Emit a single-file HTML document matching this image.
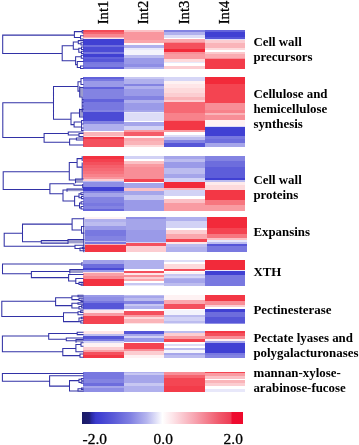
<!DOCTYPE html>
<html><head><meta charset="utf-8"><title>Heatmap</title>
<style>
html,body{margin:0;padding:0;background:#fff;}
body{width:359px;height:445px;overflow:hidden;font-family:"Liberation Serif",serif;}
svg{display:block;filter:blur(0.4px);}
</style></head>
<body>
<svg width="359" height="445" viewBox="0 0 359 445">
<rect width="359" height="445" fill="#fff"/>
<g shape-rendering="crispEdges">
<rect x="83.00" y="29.60" width="41.00" height="1.90" fill="#f44b58"/>
<rect x="83.00" y="31.50" width="41.00" height="2.50" fill="#f6646f"/>
<rect x="83.00" y="34.00" width="41.00" height="2.50" fill="#f88790"/>
<rect x="83.00" y="36.50" width="41.00" height="1.50" fill="#faafb5"/>
<rect x="83.00" y="38.00" width="41.00" height="1.00" fill="#fee6e8"/>
<rect x="83.00" y="39.00" width="41.00" height="6.00" fill="#4040d3"/>
<rect x="83.00" y="45.00" width="41.00" height="2.00" fill="#6d6ddd"/>
<rect x="83.00" y="47.00" width="41.00" height="5.00" fill="#4b4bd5"/>
<rect x="83.00" y="52.00" width="41.00" height="1.50" fill="#7878e0"/>
<rect x="83.00" y="53.50" width="41.00" height="3.50" fill="#4040d3"/>
<rect x="83.00" y="57.00" width="41.00" height="2.00" fill="#6262db"/>
<rect x="83.00" y="59.00" width="41.00" height="3.00" fill="#5656d8"/>
<rect x="83.00" y="62.00" width="41.00" height="1.50" fill="#7878e0"/>
<rect x="83.00" y="63.50" width="41.00" height="3.00" fill="#7c7ce1"/>
<rect x="83.00" y="66.50" width="41.00" height="2.40" fill="#5d5dda"/>
<rect x="124.00" y="29.60" width="40.00" height="2.40" fill="#fbc0c5"/>
<rect x="124.00" y="32.00" width="40.00" height="8.00" fill="#f9969e"/>
<rect x="124.00" y="40.00" width="40.00" height="2.50" fill="#faa5ab"/>
<rect x="124.00" y="42.50" width="40.00" height="2.00" fill="#fff8f8"/>
<rect x="124.00" y="44.50" width="40.00" height="3.50" fill="#b0b0ed"/>
<rect x="124.00" y="48.00" width="40.00" height="2.00" fill="#e8e8fa"/>
<rect x="124.00" y="50.00" width="40.00" height="4.60" fill="#f4f4fc"/>
<rect x="124.00" y="54.60" width="40.00" height="3.40" fill="#bcbcef"/>
<rect x="124.00" y="58.00" width="40.00" height="6.00" fill="#9a9ae8"/>
<rect x="124.00" y="64.00" width="40.00" height="3.00" fill="#8e8ee5"/>
<rect x="124.00" y="67.00" width="40.00" height="1.90" fill="#b0b0ed"/>
<rect x="164.00" y="29.60" width="41.00" height="2.80" fill="#8383e2"/>
<rect x="164.00" y="32.40" width="41.00" height="2.90" fill="#b0b0ed"/>
<rect x="164.00" y="35.30" width="41.00" height="2.30" fill="#ddddf7"/>
<rect x="164.00" y="37.60" width="41.00" height="1.70" fill="#ffffff"/>
<rect x="164.00" y="39.30" width="41.00" height="2.30" fill="#faa8ae"/>
<rect x="164.00" y="41.60" width="41.00" height="1.70" fill="#f88e97"/>
<rect x="164.00" y="43.30" width="41.00" height="5.70" fill="#f4505d"/>
<rect x="164.00" y="49.00" width="41.00" height="3.40" fill="#f22a3a"/>
<rect x="164.00" y="52.40" width="41.00" height="1.10" fill="#f88e97"/>
<rect x="164.00" y="53.50" width="41.00" height="5.70" fill="#f99ba2"/>
<rect x="164.00" y="59.20" width="41.00" height="2.30" fill="#fddadc"/>
<rect x="164.00" y="61.50" width="41.00" height="1.70" fill="#e8e8fa"/>
<rect x="164.00" y="63.20" width="41.00" height="2.30" fill="#ffffff"/>
<rect x="164.00" y="65.50" width="41.00" height="3.40" fill="#fccdd1"/>
<rect x="205.00" y="29.60" width="40.00" height="2.30" fill="#6262db"/>
<rect x="205.00" y="31.90" width="40.00" height="5.10" fill="#4040d3"/>
<rect x="205.00" y="37.00" width="40.00" height="2.30" fill="#5656d8"/>
<rect x="205.00" y="39.30" width="40.00" height="1.10" fill="#ddddf7"/>
<rect x="205.00" y="40.40" width="40.00" height="2.30" fill="#fccdd1"/>
<rect x="205.00" y="42.70" width="40.00" height="5.10" fill="#fab4b9"/>
<rect x="205.00" y="47.80" width="40.00" height="1.70" fill="#fddadc"/>
<rect x="205.00" y="49.50" width="40.00" height="2.30" fill="#ffffff"/>
<rect x="205.00" y="51.80" width="40.00" height="1.70" fill="#fcc8cc"/>
<rect x="205.00" y="53.50" width="40.00" height="4.00" fill="#faacb2"/>
<rect x="205.00" y="57.50" width="40.00" height="1.90" fill="#f88e97"/>
<rect x="205.00" y="59.40" width="40.00" height="9.50" fill="#f33c4a"/>
<rect x="83.00" y="77.20" width="41.00" height="1.90" fill="#6262db"/>
<rect x="83.00" y="79.10" width="41.00" height="1.70" fill="#7878e0"/>
<rect x="83.00" y="80.80" width="41.00" height="5.80" fill="#9a9ae8"/>
<rect x="83.00" y="86.60" width="41.00" height="2.80" fill="#6262db"/>
<rect x="83.00" y="89.40" width="41.00" height="9.10" fill="#8383e2"/>
<rect x="83.00" y="98.50" width="41.00" height="3.50" fill="#6262db"/>
<rect x="83.00" y="102.00" width="41.00" height="8.00" fill="#7878e0"/>
<rect x="83.00" y="110.00" width="41.00" height="1.70" fill="#8383e2"/>
<rect x="83.00" y="111.70" width="41.00" height="9.70" fill="#4b4bd5"/>
<rect x="83.00" y="121.40" width="41.00" height="2.30" fill="#8383e2"/>
<rect x="83.00" y="123.70" width="41.00" height="7.40" fill="#b0b0ed"/>
<rect x="83.00" y="131.10" width="41.00" height="1.20" fill="#ffffff"/>
<rect x="83.00" y="132.30" width="41.00" height="3.40" fill="#fab4b9"/>
<rect x="83.00" y="135.70" width="41.00" height="1.10" fill="#fddadc"/>
<rect x="83.00" y="136.80" width="41.00" height="2.30" fill="#f33745"/>
<rect x="83.00" y="139.10" width="41.00" height="7.40" fill="#f4505d"/>
<rect x="124.00" y="77.20" width="40.00" height="1.80" fill="#c7c7f2"/>
<rect x="124.00" y="79.00" width="40.00" height="4.50" fill="#b0b0ed"/>
<rect x="124.00" y="83.50" width="40.00" height="2.80" fill="#8383e2"/>
<rect x="124.00" y="86.30" width="40.00" height="2.20" fill="#b0b0ed"/>
<rect x="124.00" y="88.50" width="40.00" height="7.80" fill="#9a9ae8"/>
<rect x="124.00" y="96.30" width="40.00" height="3.30" fill="#8383e2"/>
<rect x="124.00" y="99.60" width="40.00" height="3.40" fill="#b0b0ed"/>
<rect x="124.00" y="103.00" width="40.00" height="7.00" fill="#9a9ae8"/>
<rect x="124.00" y="110.00" width="40.00" height="1.70" fill="#a5a5ea"/>
<rect x="124.00" y="111.70" width="40.00" height="1.60" fill="#e8e8fa"/>
<rect x="124.00" y="113.30" width="40.00" height="7.30" fill="#ddddf7"/>
<rect x="124.00" y="120.60" width="40.00" height="1.70" fill="#ffffff"/>
<rect x="124.00" y="122.30" width="40.00" height="3.30" fill="#a5a5ea"/>
<rect x="124.00" y="125.60" width="40.00" height="4.40" fill="#d2d2f5"/>
<rect x="124.00" y="130.00" width="40.00" height="1.70" fill="#f99ba2"/>
<rect x="124.00" y="131.70" width="40.00" height="4.50" fill="#f55c68"/>
<rect x="124.00" y="136.20" width="40.00" height="1.70" fill="#fef2f3"/>
<rect x="124.00" y="137.90" width="40.00" height="2.70" fill="#faa8ae"/>
<rect x="124.00" y="140.60" width="40.00" height="3.90" fill="#fab4b9"/>
<rect x="124.00" y="144.50" width="40.00" height="2.00" fill="#fddadc"/>
<rect x="164.00" y="77.20" width="41.00" height="3.30" fill="#d6d6f6"/>
<rect x="164.00" y="80.50" width="41.00" height="3.50" fill="#fef2f3"/>
<rect x="164.00" y="84.00" width="41.00" height="4.00" fill="#fee6e8"/>
<rect x="164.00" y="88.00" width="41.00" height="5.00" fill="#fddadc"/>
<rect x="164.00" y="93.00" width="41.00" height="3.80" fill="#fccdd1"/>
<rect x="164.00" y="96.80" width="41.00" height="3.20" fill="#fab4b9"/>
<rect x="164.00" y="100.00" width="41.00" height="2.30" fill="#fccdd1"/>
<rect x="164.00" y="102.30" width="41.00" height="11.10" fill="#f66974"/>
<rect x="164.00" y="113.40" width="41.00" height="6.30" fill="#f8828b"/>
<rect x="164.00" y="119.70" width="41.00" height="1.70" fill="#f7767f"/>
<rect x="164.00" y="121.40" width="41.00" height="8.60" fill="#f33745"/>
<rect x="164.00" y="130.00" width="41.00" height="2.30" fill="#f99ba2"/>
<rect x="164.00" y="132.30" width="41.00" height="2.20" fill="#ffffff"/>
<rect x="164.00" y="134.50" width="41.00" height="2.90" fill="#ddddf7"/>
<rect x="164.00" y="137.40" width="41.00" height="2.90" fill="#bcbcef"/>
<rect x="164.00" y="140.30" width="41.00" height="2.80" fill="#8383e2"/>
<rect x="164.00" y="143.10" width="41.00" height="3.40" fill="#5656d8"/>
<rect x="205.00" y="77.20" width="40.00" height="6.80" fill="#f22a3a"/>
<rect x="205.00" y="84.00" width="40.00" height="18.50" fill="#f44451"/>
<rect x="205.00" y="102.50" width="40.00" height="7.50" fill="#f88e97"/>
<rect x="205.00" y="110.00" width="40.00" height="2.90" fill="#f8828b"/>
<rect x="205.00" y="112.90" width="40.00" height="1.70" fill="#fab4b9"/>
<rect x="205.00" y="114.60" width="40.00" height="5.70" fill="#f88e97"/>
<rect x="205.00" y="120.30" width="40.00" height="5.20" fill="#fef2f3"/>
<rect x="205.00" y="125.50" width="40.00" height="1.70" fill="#ddddf7"/>
<rect x="205.00" y="127.20" width="40.00" height="9.10" fill="#4040d3"/>
<rect x="205.00" y="136.30" width="40.00" height="2.20" fill="#7878e0"/>
<rect x="205.00" y="138.50" width="40.00" height="4.00" fill="#6d6ddd"/>
<rect x="205.00" y="142.50" width="40.00" height="4.00" fill="#a5a5ea"/>
<rect x="83.00" y="155.60" width="41.00" height="3.40" fill="#f33241"/>
<rect x="83.00" y="159.00" width="41.00" height="3.00" fill="#f4414f"/>
<rect x="83.00" y="162.00" width="41.00" height="3.00" fill="#f4505d"/>
<rect x="83.00" y="165.00" width="41.00" height="3.00" fill="#f55f6b"/>
<rect x="83.00" y="168.00" width="41.00" height="3.00" fill="#f66974"/>
<rect x="83.00" y="171.00" width="41.00" height="3.00" fill="#f7737d"/>
<rect x="83.00" y="174.00" width="41.00" height="3.00" fill="#f8828b"/>
<rect x="83.00" y="177.00" width="41.00" height="2.00" fill="#f9969e"/>
<rect x="83.00" y="179.00" width="41.00" height="1.80" fill="#fccdd1"/>
<rect x="83.00" y="180.80" width="41.00" height="1.50" fill="#bcbcef"/>
<rect x="83.00" y="182.30" width="41.00" height="4.50" fill="#8e8ee5"/>
<rect x="83.00" y="186.80" width="41.00" height="4.00" fill="#4040d3"/>
<rect x="83.00" y="190.80" width="41.00" height="1.80" fill="#8383e2"/>
<rect x="83.00" y="192.60" width="41.00" height="4.00" fill="#a5a5ea"/>
<rect x="83.00" y="196.60" width="41.00" height="6.20" fill="#8383e2"/>
<rect x="83.00" y="202.80" width="41.00" height="3.50" fill="#7878e0"/>
<rect x="83.00" y="206.30" width="41.00" height="2.20" fill="#8383e2"/>
<rect x="83.00" y="208.50" width="41.00" height="2.30" fill="#6666dc"/>
<rect x="124.00" y="155.60" width="40.00" height="3.10" fill="#d2d2f5"/>
<rect x="124.00" y="158.70" width="40.00" height="2.20" fill="#ffffff"/>
<rect x="124.00" y="160.90" width="40.00" height="3.40" fill="#fbc0c5"/>
<rect x="124.00" y="164.30" width="40.00" height="2.70" fill="#f99ba2"/>
<rect x="124.00" y="167.00" width="40.00" height="12.30" fill="#f88e97"/>
<rect x="124.00" y="179.30" width="40.00" height="2.30" fill="#f44451"/>
<rect x="124.00" y="181.60" width="40.00" height="1.20" fill="#ffffff"/>
<rect x="124.00" y="182.80" width="40.00" height="5.00" fill="#a5a5ea"/>
<rect x="124.00" y="187.80" width="40.00" height="3.30" fill="#fbc0c5"/>
<rect x="124.00" y="191.10" width="40.00" height="3.40" fill="#a5a5ea"/>
<rect x="124.00" y="194.50" width="40.00" height="5.50" fill="#c7c7f2"/>
<rect x="124.00" y="200.00" width="40.00" height="10.80" fill="#9a9ae8"/>
<rect x="164.00" y="155.60" width="41.00" height="3.20" fill="#a5a5ea"/>
<rect x="164.00" y="158.80" width="41.00" height="3.50" fill="#bcbcef"/>
<rect x="164.00" y="162.30" width="41.00" height="5.70" fill="#9a9ae8"/>
<rect x="164.00" y="168.00" width="41.00" height="5.70" fill="#bcbcef"/>
<rect x="164.00" y="173.70" width="41.00" height="4.60" fill="#a5a5ea"/>
<rect x="164.00" y="178.30" width="41.00" height="3.20" fill="#d2d2f5"/>
<rect x="164.00" y="181.50" width="41.00" height="6.50" fill="#f22a3a"/>
<rect x="164.00" y="188.00" width="41.00" height="2.30" fill="#fab4b9"/>
<rect x="164.00" y="190.30" width="41.00" height="5.70" fill="#d2d2f5"/>
<rect x="164.00" y="196.00" width="41.00" height="2.80" fill="#ffffff"/>
<rect x="164.00" y="198.80" width="41.00" height="4.00" fill="#fbc0c5"/>
<rect x="164.00" y="202.80" width="41.00" height="8.00" fill="#f99ba2"/>
<rect x="205.00" y="155.60" width="40.00" height="5.00" fill="#8383e2"/>
<rect x="205.00" y="160.60" width="40.00" height="6.20" fill="#6d6ddd"/>
<rect x="205.00" y="166.80" width="40.00" height="10.90" fill="#5d5dda"/>
<rect x="205.00" y="177.70" width="40.00" height="2.00" fill="#4040d3"/>
<rect x="205.00" y="179.70" width="40.00" height="2.10" fill="#bcbcef"/>
<rect x="205.00" y="181.80" width="40.00" height="3.30" fill="#feebec"/>
<rect x="205.00" y="185.10" width="40.00" height="4.60" fill="#fddadc"/>
<rect x="205.00" y="189.70" width="40.00" height="10.30" fill="#f33745"/>
<rect x="205.00" y="200.00" width="40.00" height="4.50" fill="#f7767f"/>
<rect x="205.00" y="204.50" width="40.00" height="6.30" fill="#f99ba2"/>
<rect x="84.50" y="216.80" width="41.00" height="2.40" fill="#fef2f3"/>
<rect x="84.50" y="219.20" width="41.00" height="2.60" fill="#b0b0ed"/>
<rect x="84.50" y="221.80" width="41.00" height="4.60" fill="#bcbcef"/>
<rect x="84.50" y="226.40" width="41.00" height="3.40" fill="#9a9ae8"/>
<rect x="84.50" y="229.80" width="41.00" height="5.70" fill="#7878e0"/>
<rect x="84.50" y="235.50" width="41.00" height="5.20" fill="#8383e2"/>
<rect x="84.50" y="240.70" width="41.00" height="1.10" fill="#bcbcef"/>
<rect x="84.50" y="241.80" width="41.00" height="1.70" fill="#7878e0"/>
<rect x="84.50" y="243.50" width="41.00" height="1.80" fill="#fab4b9"/>
<rect x="84.50" y="245.30" width="41.00" height="6.50" fill="#f33745"/>
<rect x="125.50" y="216.80" width="40.00" height="2.50" fill="#8e8ee5"/>
<rect x="125.50" y="219.30" width="40.00" height="10.20" fill="#a5a5ea"/>
<rect x="125.50" y="229.50" width="40.00" height="12.20" fill="#9a9ae8"/>
<rect x="125.50" y="241.70" width="40.00" height="1.70" fill="#d2d2f5"/>
<rect x="125.50" y="243.40" width="40.00" height="2.80" fill="#f4505d"/>
<rect x="125.50" y="246.20" width="40.00" height="5.60" fill="#fccdd1"/>
<rect x="165.50" y="216.80" width="41.00" height="3.90" fill="#b0b0ed"/>
<rect x="165.50" y="220.70" width="41.00" height="6.90" fill="#d2d2f5"/>
<rect x="165.50" y="227.60" width="41.00" height="2.20" fill="#ffffff"/>
<rect x="165.50" y="229.80" width="41.00" height="4.60" fill="#fccdd1"/>
<rect x="165.50" y="234.40" width="41.00" height="4.60" fill="#faa8ae"/>
<rect x="165.50" y="239.00" width="41.00" height="3.40" fill="#f44451"/>
<rect x="165.50" y="242.40" width="41.00" height="1.70" fill="#fee6e8"/>
<rect x="165.50" y="244.10" width="41.00" height="2.90" fill="#bcbcef"/>
<rect x="165.50" y="247.00" width="41.00" height="4.80" fill="#b0b0ed"/>
<rect x="206.50" y="216.80" width="40.00" height="10.80" fill="#f22a3a"/>
<rect x="206.50" y="227.60" width="40.00" height="6.80" fill="#f44451"/>
<rect x="206.50" y="234.40" width="40.00" height="3.40" fill="#f7767f"/>
<rect x="206.50" y="237.80" width="40.00" height="1.70" fill="#fbc0c5"/>
<rect x="206.50" y="239.50" width="40.00" height="2.30" fill="#e8e8fa"/>
<rect x="206.50" y="241.80" width="40.00" height="2.30" fill="#bcbcef"/>
<rect x="206.50" y="244.10" width="40.00" height="1.70" fill="#5656d8"/>
<rect x="206.50" y="245.80" width="40.00" height="6.00" fill="#7878e0"/>
<rect x="83.00" y="259.90" width="41.00" height="4.10" fill="#a0a0e9"/>
<rect x="83.00" y="264.00" width="41.00" height="3.80" fill="#6d6ddd"/>
<rect x="83.00" y="267.80" width="41.00" height="2.40" fill="#4b4bd5"/>
<rect x="83.00" y="270.20" width="41.00" height="1.40" fill="#9a9ae8"/>
<rect x="83.00" y="271.60" width="41.00" height="1.40" fill="#fde1e3"/>
<rect x="83.00" y="273.00" width="41.00" height="3.00" fill="#f9a0a7"/>
<rect x="83.00" y="276.00" width="41.00" height="3.40" fill="#f88790"/>
<rect x="83.00" y="279.40" width="41.00" height="6.70" fill="#f33241"/>
<rect x="124.00" y="259.90" width="40.00" height="9.50" fill="#b0b0ed"/>
<rect x="124.00" y="269.40" width="40.00" height="1.60" fill="#ffffff"/>
<rect x="124.00" y="271.00" width="40.00" height="1.70" fill="#f4505d"/>
<rect x="124.00" y="272.70" width="40.00" height="2.00" fill="#fee6e8"/>
<rect x="124.00" y="274.70" width="40.00" height="2.70" fill="#f88e97"/>
<rect x="124.00" y="277.40" width="40.00" height="2.00" fill="#fccdd1"/>
<rect x="124.00" y="279.40" width="40.00" height="2.00" fill="#faa8ae"/>
<rect x="124.00" y="281.40" width="40.00" height="1.30" fill="#ffffff"/>
<rect x="124.00" y="282.70" width="40.00" height="2.00" fill="#c7c7f2"/>
<rect x="124.00" y="284.70" width="40.00" height="1.40" fill="#e8e8fa"/>
<rect x="164.00" y="259.90" width="41.00" height="2.10" fill="#ddddf7"/>
<rect x="164.00" y="262.00" width="41.00" height="2.00" fill="#ffffff"/>
<rect x="164.00" y="264.00" width="41.00" height="5.40" fill="#fddadc"/>
<rect x="164.00" y="269.40" width="41.00" height="1.30" fill="#f4505d"/>
<rect x="164.00" y="270.70" width="41.00" height="1.10" fill="#ffffff"/>
<rect x="164.00" y="271.80" width="41.00" height="1.70" fill="#fef2f3"/>
<rect x="164.00" y="273.50" width="41.00" height="2.50" fill="#c7c7f2"/>
<rect x="164.00" y="276.00" width="41.00" height="2.00" fill="#d6d6f6"/>
<rect x="164.00" y="278.00" width="41.00" height="1.40" fill="#b0b0ed"/>
<rect x="164.00" y="279.40" width="41.00" height="3.30" fill="#a5a5ea"/>
<rect x="164.00" y="282.70" width="41.00" height="3.40" fill="#bcbcef"/>
<rect x="205.00" y="259.90" width="40.00" height="10.10" fill="#f22a3a"/>
<rect x="205.00" y="270.00" width="40.00" height="1.40" fill="#e8e8fa"/>
<rect x="205.00" y="271.40" width="40.00" height="4.00" fill="#4040d3"/>
<rect x="205.00" y="275.40" width="40.00" height="10.70" fill="#7878e0"/>
<rect x="83.00" y="295.00" width="41.00" height="2.40" fill="#9a9ae8"/>
<rect x="83.00" y="297.40" width="41.00" height="3.30" fill="#8e8ee5"/>
<rect x="83.00" y="300.70" width="41.00" height="2.00" fill="#7878e0"/>
<rect x="83.00" y="302.70" width="41.00" height="6.00" fill="#5656d8"/>
<rect x="83.00" y="308.70" width="41.00" height="1.30" fill="#bcbcef"/>
<rect x="83.00" y="310.00" width="41.00" height="3.40" fill="#fee6e8"/>
<rect x="83.00" y="313.40" width="41.00" height="2.70" fill="#f99ba2"/>
<rect x="83.00" y="316.10" width="41.00" height="8.20" fill="#f44451"/>
<rect x="124.00" y="295.00" width="40.00" height="1.00" fill="#bcbcef"/>
<rect x="124.00" y="296.00" width="40.00" height="2.00" fill="#a5a5ea"/>
<rect x="124.00" y="298.00" width="40.00" height="2.70" fill="#bcbcef"/>
<rect x="124.00" y="300.70" width="40.00" height="3.30" fill="#8383e2"/>
<rect x="124.00" y="304.00" width="40.00" height="2.00" fill="#c7c7f2"/>
<rect x="124.00" y="306.00" width="40.00" height="3.40" fill="#b0b0ed"/>
<rect x="124.00" y="309.40" width="40.00" height="1.30" fill="#ffffff"/>
<rect x="124.00" y="310.70" width="40.00" height="4.00" fill="#f4505d"/>
<rect x="124.00" y="314.70" width="40.00" height="2.00" fill="#f99ba2"/>
<rect x="124.00" y="316.70" width="40.00" height="2.00" fill="#fddadc"/>
<rect x="124.00" y="318.70" width="40.00" height="4.10" fill="#fab4b9"/>
<rect x="124.00" y="322.80" width="40.00" height="1.50" fill="#fee6e8"/>
<rect x="164.00" y="295.00" width="41.00" height="0.30" fill="#bcbcef"/>
<rect x="164.00" y="295.30" width="41.00" height="4.70" fill="#fef2f3"/>
<rect x="164.00" y="300.00" width="41.00" height="4.00" fill="#faa8ae"/>
<rect x="164.00" y="304.00" width="41.00" height="4.70" fill="#f4505d"/>
<rect x="164.00" y="308.70" width="41.00" height="1.30" fill="#ffffff"/>
<rect x="164.00" y="310.00" width="41.00" height="4.70" fill="#f4f4fc"/>
<rect x="164.00" y="314.70" width="41.00" height="2.00" fill="#bcbcef"/>
<rect x="164.00" y="316.70" width="41.00" height="4.00" fill="#d2d2f5"/>
<rect x="164.00" y="320.70" width="41.00" height="2.10" fill="#bcbcef"/>
<rect x="164.00" y="322.80" width="41.00" height="1.50" fill="#ddddf7"/>
<rect x="205.00" y="295.00" width="40.00" height="5.70" fill="#f33745"/>
<rect x="205.00" y="300.70" width="40.00" height="4.00" fill="#f88e97"/>
<rect x="205.00" y="304.70" width="40.00" height="2.00" fill="#fccdd1"/>
<rect x="205.00" y="306.70" width="40.00" height="2.70" fill="#ffffff"/>
<rect x="205.00" y="309.40" width="40.00" height="2.60" fill="#4040d3"/>
<rect x="205.00" y="312.00" width="40.00" height="4.70" fill="#6d6ddd"/>
<rect x="205.00" y="316.70" width="40.00" height="6.10" fill="#5656d8"/>
<rect x="205.00" y="322.80" width="40.00" height="1.50" fill="#8e8ee5"/>
<rect x="83.00" y="330.80" width="41.00" height="3.40" fill="#fee6e8"/>
<rect x="83.00" y="334.20" width="41.00" height="1.80" fill="#bcbcef"/>
<rect x="83.00" y="336.00" width="41.00" height="2.70" fill="#5656d8"/>
<rect x="83.00" y="338.70" width="41.00" height="2.70" fill="#7878e0"/>
<rect x="83.00" y="341.40" width="41.00" height="2.00" fill="#d2d2f5"/>
<rect x="83.00" y="343.40" width="41.00" height="3.10" fill="#fef2f3"/>
<rect x="83.00" y="346.50" width="41.00" height="3.00" fill="#fccdd1"/>
<rect x="83.00" y="349.50" width="41.00" height="2.50" fill="#f9a0a7"/>
<rect x="83.00" y="352.00" width="41.00" height="3.00" fill="#f4505d"/>
<rect x="83.00" y="355.00" width="41.00" height="3.40" fill="#f33745"/>
<rect x="124.00" y="330.80" width="40.00" height="3.20" fill="#5656d8"/>
<rect x="124.00" y="334.00" width="40.00" height="2.00" fill="#a5a5ea"/>
<rect x="124.00" y="336.00" width="40.00" height="2.00" fill="#d2d2f5"/>
<rect x="124.00" y="338.00" width="40.00" height="4.00" fill="#9a9ae8"/>
<rect x="124.00" y="342.00" width="40.00" height="1.40" fill="#ffffff"/>
<rect x="124.00" y="343.40" width="40.00" height="5.30" fill="#f44451"/>
<rect x="124.00" y="348.70" width="40.00" height="2.70" fill="#f88e97"/>
<rect x="124.00" y="351.40" width="40.00" height="3.30" fill="#fccdd1"/>
<rect x="124.00" y="354.70" width="40.00" height="3.70" fill="#fef2f3"/>
<rect x="164.00" y="330.80" width="41.00" height="2.60" fill="#bcbcef"/>
<rect x="164.00" y="333.40" width="41.00" height="2.60" fill="#fccdd1"/>
<rect x="164.00" y="336.00" width="41.00" height="2.70" fill="#f99ba2"/>
<rect x="164.00" y="338.70" width="41.00" height="3.30" fill="#f44451"/>
<rect x="164.00" y="342.00" width="41.00" height="2.00" fill="#ffffff"/>
<rect x="164.00" y="344.00" width="41.00" height="2.00" fill="#ddddf7"/>
<rect x="164.00" y="346.00" width="41.00" height="2.00" fill="#ffffff"/>
<rect x="164.00" y="348.00" width="41.00" height="2.00" fill="#bcbcef"/>
<rect x="164.00" y="350.00" width="41.00" height="2.70" fill="#f4f4fc"/>
<rect x="164.00" y="352.70" width="41.00" height="2.00" fill="#a5a5ea"/>
<rect x="164.00" y="354.70" width="41.00" height="3.70" fill="#bcbcef"/>
<rect x="205.00" y="330.80" width="40.00" height="2.60" fill="#f33745"/>
<rect x="205.00" y="333.40" width="40.00" height="2.60" fill="#f4505d"/>
<rect x="205.00" y="336.00" width="40.00" height="2.70" fill="#f88e97"/>
<rect x="205.00" y="338.70" width="40.00" height="2.70" fill="#fef2f3"/>
<rect x="205.00" y="341.40" width="40.00" height="2.00" fill="#a5a5ea"/>
<rect x="205.00" y="343.40" width="40.00" height="9.30" fill="#4040d3"/>
<rect x="205.00" y="352.70" width="40.00" height="2.00" fill="#7878e0"/>
<rect x="205.00" y="354.70" width="40.00" height="3.70" fill="#8383e2"/>
<rect x="83.00" y="371.50" width="41.00" height="7.20" fill="#7878e0"/>
<rect x="83.00" y="378.70" width="41.00" height="4.00" fill="#8383e2"/>
<rect x="83.00" y="382.70" width="41.00" height="3.30" fill="#6d6ddd"/>
<rect x="83.00" y="386.00" width="41.00" height="2.00" fill="#a5a5ea"/>
<rect x="83.00" y="388.00" width="41.00" height="4.30" fill="#8e8ee5"/>
<rect x="124.00" y="371.50" width="40.00" height="1.90" fill="#b0b0ed"/>
<rect x="124.00" y="373.40" width="40.00" height="2.00" fill="#c7c7f2"/>
<rect x="124.00" y="375.40" width="40.00" height="7.30" fill="#a5a5ea"/>
<rect x="124.00" y="382.70" width="40.00" height="3.30" fill="#c7c7f2"/>
<rect x="124.00" y="386.00" width="40.00" height="6.30" fill="#b0b0ed"/>
<rect x="164.00" y="371.50" width="41.00" height="3.00" fill="#f88e97"/>
<rect x="164.00" y="374.50" width="41.00" height="3.50" fill="#f6646f"/>
<rect x="164.00" y="378.00" width="41.00" height="8.00" fill="#f44653"/>
<rect x="164.00" y="386.00" width="41.00" height="6.30" fill="#f33c4a"/>
<rect x="205.00" y="371.50" width="40.00" height="1.90" fill="#f44451"/>
<rect x="205.00" y="373.40" width="40.00" height="2.60" fill="#f99ba2"/>
<rect x="205.00" y="376.00" width="40.00" height="2.70" fill="#fbc0c5"/>
<rect x="205.00" y="378.70" width="40.00" height="1.30" fill="#ffffff"/>
<rect x="205.00" y="380.00" width="40.00" height="2.70" fill="#fab4b9"/>
<rect x="205.00" y="382.70" width="40.00" height="3.30" fill="#fccdd1"/>
<rect x="205.00" y="386.00" width="40.00" height="2.70" fill="#ffffff"/>
<rect x="205.00" y="388.70" width="40.00" height="3.60" fill="#e8e8fa"/>
</g>
<rect x="79.70" y="87.50" width="3.30" height="9.00" fill="#9c9ccc"/><rect x="79.50" y="109.50" width="3.50" height="7.00" fill="#9c9ccc"/><rect x="75.50" y="179.00" width="7.50" height="3.80" fill="#9c9ccc"/><rect x="67.00" y="188.90" width="16.00" height="2.30" fill="#9c9ccc"/><rect x="68.00" y="239.40" width="16.00" height="4.00" fill="#9c9ccc"/><rect x="69.80" y="269.50" width="13.20" height="3.50" fill="#9c9ccc"/><rect x="76.00" y="339.60" width="7.00" height="2.60" fill="#9c9ccc"/><path d="M2.70 35.10L2.70 53.40M2.70 35.10L74.40 35.10M2.70 53.40L62.20 53.40M74.40 31.60L74.40 37.50M74.40 31.60L82.20 31.60M82.20 30.40L82.20 33.00M82.20 30.40L83.00 30.40M82.20 33.00L83.00 33.00M74.40 37.50L80.50 37.50M80.50 35.80L80.50 39.00M80.50 35.80L83.00 35.80M80.50 39.00L83.00 39.00M62.20 45.80L62.20 60.70M62.20 45.80L73.30 45.80M73.30 41.90L73.30 49.30M73.30 41.90L78.30 41.90M78.30 40.60L78.30 43.80M78.30 40.60L83.00 40.60M78.30 43.80L81.00 43.80M81.00 42.80L81.00 45.00M81.00 42.80L83.00 42.80M81.00 45.00L83.00 45.00M73.30 49.30L78.80 49.30M78.80 48.20L78.80 52.30M78.80 48.20L81.50 48.20M81.50 47.00L81.50 49.50M81.50 47.00L83.00 47.00M81.50 49.50L83.00 49.50M78.80 52.30L81.50 52.30M81.50 51.20L81.50 53.50M81.50 51.20L83.00 51.20M81.50 53.50L83.00 53.50M62.20 60.70L75.60 60.70M75.60 56.70L75.60 64.60M75.60 56.70L81.30 56.70M81.30 55.20L81.30 58.30M81.30 55.20L83.00 55.20M81.30 58.30L83.00 58.30M75.60 64.60L77.30 64.60M77.30 61.50L77.30 67.50M77.30 61.50L83.00 61.50M77.30 67.50L80.50 67.50M80.50 66.00L80.50 68.50M80.50 66.00L83.00 66.00M80.50 68.50L83.00 68.50M2.80 102.70L2.80 137.40M2.80 102.70L53.50 102.70M2.80 137.40L44.10 137.40M53.50 86.40L53.50 119.20M53.50 86.40L78.00 86.40M78.00 81.70L78.00 91.10M78.00 81.70L81.00 81.70M81.00 78.40L81.00 84.50M81.00 78.40L83.00 78.40M81.00 84.50L83.00 84.50M78.00 91.10L79.70 91.10M79.70 87.50L83.00 87.50M79.70 87.50L79.70 96.50M79.70 86.80L79.70 97.00M79.70 97.00L82.20 97.00M82.20 97.00L82.20 111.60M82.20 99.50L83.00 99.50M82.20 102.50L83.00 102.50M82.20 106.00L83.00 106.00M82.20 109.00L83.00 109.00M53.50 119.20L71.00 119.20M71.00 113.00L71.00 124.60M71.00 113.00L79.50 113.00M79.50 109.50L83.00 109.50M79.50 109.50L79.50 116.50M79.50 109.30L79.50 117.00M79.50 117.00L83.00 117.00M71.00 124.60L74.10 124.60M74.10 122.00L74.10 126.90M74.10 122.00L81.30 122.00M74.10 126.90L81.30 126.90M81.60 120.50L81.60 130.50M81.60 120.50L83.00 120.50M81.60 124.00L83.00 124.00M81.60 128.00L83.00 128.00M81.60 130.50L83.00 130.50M44.10 133.40L44.10 142.20M44.10 133.40L68.30 133.40M68.30 132.00L68.30 135.00M68.30 132.00L83.00 132.00M68.30 135.00L79.00 135.00M79.00 133.50L79.00 136.50M79.00 133.50L83.00 133.50M79.00 136.50L83.00 136.50M44.10 142.20L69.60 142.20M69.60 139.00L69.60 144.90M69.60 139.00L76.40 139.00M76.40 138.00L76.40 140.00M76.40 138.00L83.00 138.00M76.40 140.00L83.00 140.00M69.60 144.90L83.00 144.90M3.20 171.70L3.20 189.40M3.20 171.70L69.30 171.70M3.20 189.40L49.90 189.40M69.30 162.40L69.30 180.00M69.30 162.40L77.10 162.40M77.10 158.60L77.10 167.10M77.10 158.60L82.20 158.60M82.20 156.80L82.20 160.40M77.10 167.10L82.20 167.10M82.20 163.00L82.20 178.00M69.30 180.00L75.50 180.00M75.50 179.00L83.00 179.00M75.50 179.00L75.50 182.80M49.90 183.80L49.90 193.80M49.90 183.80L74.00 183.80M74.00 183.80L74.00 185.20M74.00 185.20L82.70 185.20M82.70 184.50L82.70 187.50M49.90 193.80L63.00 193.80M63.00 189.90L63.00 201.00M63.00 189.90L67.00 189.90M67.00 188.90L83.00 188.90M67.00 188.90L67.00 191.20M63.00 201.00L74.60 201.00M74.60 196.30L74.60 205.70M74.60 196.30L79.00 196.30M79.00 193.79L79.00 197.79M79.00 193.79L80.95 193.79M79.00 197.79L81.45 197.79M80.95 192.66L80.95 194.45M80.95 192.66L82.15 192.66M80.95 194.45L82.06 194.45M82.15 192.66L83.00 192.66M82.06 194.45L83.00 194.45M81.45 196.39L81.45 198.60M81.45 196.39L82.34 196.39M81.45 198.60L82.16 198.60M82.34 196.39L83.00 196.39M82.16 198.60L83.00 198.60M74.60 205.70L79.50 205.70M79.50 202.92L79.50 207.97M79.50 202.92L81.14 202.92M79.50 207.97L81.15 207.97M81.14 201.66L81.14 204.08M81.14 201.66L82.36 201.66M81.14 204.08L82.03 204.08M82.36 201.66L83.00 201.66M82.03 204.08L83.00 204.08M81.15 206.44L81.15 209.07M81.15 206.44L82.27 206.44M81.15 209.07L82.42 209.07M82.27 206.44L83.00 206.44M82.42 209.07L83.00 209.07M4.20 233.20L4.20 246.30M4.20 233.20L22.50 233.20M4.20 246.30L75.00 246.30M22.50 224.10L22.50 241.80M22.50 224.10L72.10 224.10M72.10 218.80L72.10 230.00M72.10 218.80L83.80 218.80M83.80 218.00L83.80 251.60M72.10 230.00L81.50 230.00M81.50 226.50L81.50 233.10M81.50 226.50L84.00 226.50M81.50 233.10L84.00 233.10M22.50 241.80L41.30 241.80M41.30 240.60L41.30 243.10M41.30 240.60L68.00 240.60M41.30 243.10L68.00 243.10M68.00 239.40L84.00 239.40M68.00 239.40L68.00 243.40M75.00 245.20L75.00 248.50M75.00 245.20L84.00 245.20M75.00 248.50L80.00 248.50M80.00 248.13L80.00 250.68M80.00 248.13L82.36 248.13M80.00 250.68L82.98 250.68M82.36 247.29L82.36 248.62M82.36 247.29L83.65 247.29M82.36 248.62L83.37 248.62M83.65 247.29L84.30 247.29M83.37 248.62L84.30 248.62M82.98 250.68L84.30 250.68M2.50 263.90L2.50 273.70M2.50 263.90L82.00 263.90M2.50 273.70L31.40 273.70M82.00 262.50L82.00 265.50M31.40 271.40L31.40 277.60M31.40 271.40L69.80 271.40M69.80 269.50L83.00 269.50M69.80 269.50L69.80 273.00M31.40 277.60L68.60 277.60M68.60 274.40L68.60 281.00M68.60 274.40L83.00 274.40M68.60 281.00L75.80 281.00M75.80 278.40L75.80 283.50M75.80 278.40L83.00 278.40M75.80 283.50L79.00 283.50M79.00 282.35L79.00 284.50M79.00 282.35L80.92 282.35M79.00 284.50L81.11 284.50M80.92 282.35L83.00 282.35M81.11 283.97L81.11 285.27M81.11 283.97L82.05 283.97M81.11 285.27L82.23 285.27M82.05 283.97L83.00 283.97M82.23 285.27L83.00 285.27M1.80 301.30L1.80 316.40M1.80 301.30L55.60 301.30M1.80 316.40L63.50 316.40M55.60 297.70L55.60 305.60M55.60 297.70L71.90 297.70M71.90 296.00L71.90 299.60M71.90 296.00L78.00 296.00M78.00 295.31L78.00 296.81M78.00 295.31L80.72 295.31M78.00 296.81L80.93 296.81M80.72 295.31L83.00 295.31M80.93 296.81L83.00 296.81M71.90 299.60L79.00 299.60M79.00 298.33L79.00 300.58M79.00 298.33L80.86 298.33M79.00 300.58L81.01 300.58M80.86 298.33L83.00 298.33M81.01 299.95L81.01 301.37M81.01 299.95L82.12 299.95M81.01 301.37L82.06 301.37M82.12 299.95L83.00 299.95M82.06 301.37L83.00 301.37M55.60 305.60L71.90 305.60M71.90 303.20L71.90 308.00M71.90 303.20L78.00 303.20M78.00 302.79L78.00 304.29M78.00 302.79L80.82 302.79M78.00 304.29L80.62 304.29M80.82 302.79L83.00 302.79M80.62 304.29L83.00 304.29M71.90 308.00L79.00 308.00M79.00 306.47L79.00 308.97M79.00 306.47L81.50 306.47M79.00 308.97L81.04 308.97M81.50 305.77L81.50 307.24M81.50 305.77L82.37 305.77M81.50 307.24L82.50 307.24M82.37 305.77L83.00 305.77M82.50 307.24L83.00 307.24M81.04 308.97L83.00 308.97M63.50 312.80L63.50 321.60M63.50 312.80L78.00 312.80M78.00 311.71L78.00 314.71M78.00 311.71L80.61 311.71M78.00 314.71L81.48 314.71M80.61 310.66L80.61 312.36M80.61 310.66L81.94 310.66M80.61 312.36L82.14 312.36M81.94 310.66L83.00 310.66M82.14 312.36L83.00 312.36M81.48 314.71L83.00 314.71M63.50 321.60L79.00 321.60M79.00 317.96L79.00 321.66M79.00 317.96L81.29 317.96M79.00 321.66L80.84 321.66M81.29 317.31L81.29 318.77M81.29 317.31L82.39 317.31M81.29 318.77L82.30 318.77M82.39 317.31L83.00 317.31M82.30 318.77L83.00 318.77M80.84 320.80L80.84 323.03M80.84 320.80L81.98 320.80M80.84 323.03L82.19 323.03M81.98 320.80L83.00 320.80M82.19 323.03L83.00 323.03M2.40 336.00L2.40 351.70M2.40 336.00L48.70 336.00M2.40 351.70L62.80 351.70M48.70 333.40L48.70 339.30M48.70 333.40L77.20 333.40M77.20 332.30L77.20 334.60M77.20 332.30L83.00 332.30M77.20 334.60L83.00 334.60M48.70 339.30L66.30 339.30M66.30 338.00L66.30 340.80M66.30 338.00L83.00 338.00M66.30 340.80L76.00 340.80M76.00 339.60L83.00 339.60M76.00 339.60L76.00 342.20M62.80 348.50L62.80 355.60M62.80 348.50L75.90 348.50M75.90 344.40L75.90 351.70M75.90 344.40L81.00 344.40M81.00 342.80L81.00 346.20M81.00 342.80L83.00 342.80M81.00 346.20L83.00 346.20M75.90 351.70L83.00 351.70M62.80 355.60L80.00 355.60M80.00 354.00L80.00 357.20M80.00 354.00L83.00 354.00M80.00 357.20L83.00 357.20M2.40 373.40L2.40 381.30M2.40 373.40L83.00 373.40M2.40 381.30L49.60 381.30M49.60 375.80L49.60 386.10M49.60 375.80L83.00 375.80M49.60 386.10L69.50 386.10M69.50 380.60L69.50 390.90M69.50 380.60L79.00 380.60M79.00 379.22L79.00 382.47M79.00 379.22L81.38 379.22M79.00 382.47L81.26 382.47M81.38 378.53L81.38 380.25M81.38 378.53L82.49 378.53M81.38 380.25L82.30 380.25M82.49 378.53L83.00 378.53M82.30 380.25L83.00 380.25M81.26 381.78L81.26 383.31M81.26 381.78L82.07 381.78M81.26 383.31L82.35 383.31M82.07 381.78L83.00 381.78M82.35 383.31L83.00 383.31M69.50 390.90L83.00 390.90M78.00 388.81L78.00 391.21M78.00 388.81L81.49 388.81M78.00 391.21L81.28 391.21M81.49 388.07L81.49 389.37M81.49 388.07L82.32 388.07M81.49 389.37L82.42 389.37M82.32 388.07L83.00 388.07M82.42 389.37L83.00 389.37M81.28 391.21L83.00 391.21" stroke="#3232a6" stroke-width="1.05" fill="none" stroke-linecap="square"/>
<g font-family="Liberation Serif" font-size="14.7" fill="#000" stroke="#000" stroke-width="0.3"><text transform="translate(107.70 24.3) rotate(-90)" x="0" y="0">Int1</text><text transform="translate(148.40 24.3) rotate(-90)" x="0" y="0">Int2</text><text transform="translate(189.00 24.3) rotate(-90)" x="0" y="0">Int3</text><text transform="translate(229.00 24.3) rotate(-90)" x="0" y="0">Int4</text></g>
<g font-family="Liberation Serif" font-weight="bold" font-size="12.9" fill="#000"><text x="253.4" y="45.8">Cell wall</text><text x="253.4" y="60.6">precursors</text><text x="253.4" y="98.0">Cellulose and</text><text x="253.4" y="113.0">hemicellulose</text><text x="253.4" y="128.4">synthesis</text><text x="253.4" y="183.9">Cell wall</text><text x="253.4" y="199.2">proteins</text><text x="253.4" y="236.4">Expansins</text><text x="253.4" y="276.2">XTH</text><text x="253.4" y="314.3">Pectinesterase</text><text x="253.4" y="341.9">Pectate lyases and</text><text x="253.4" y="356.8">polygalacturonases</text><text x="253.4" y="376.5">mannan-xylose-</text><text x="253.4" y="392.3">arabinose-fucose</text></g>
<defs><linearGradient id="cb" x1="0" x2="1" y1="0" y2="0"><stop offset="0.000" stop-color="#1a1a66"/><stop offset="0.045" stop-color="#1e1e74"/><stop offset="0.060" stop-color="#2a2aa6"/><stop offset="0.085" stop-color="#3a3acc"/><stop offset="0.110" stop-color="#4040d2"/><stop offset="0.200" stop-color="#5c5cd8"/><stop offset="0.300" stop-color="#8080e2"/><stop offset="0.400" stop-color="#b4b4ee"/><stop offset="0.460" stop-color="#e0e0f8"/><stop offset="0.500" stop-color="#ffffff"/><stop offset="0.560" stop-color="#fde6ea"/><stop offset="0.700" stop-color="#f7a4b0"/><stop offset="0.850" stop-color="#f05a6c"/><stop offset="0.925" stop-color="#ee3c54"/><stop offset="0.932" stop-color="#ee0c30"/><stop offset="1.000" stop-color="#ee0a2c"/></linearGradient></defs><rect x="82" y="412" width="161" height="12" fill="url(#cb)"/>
<g font-family="Liberation Serif" font-size="15.4" fill="#000" stroke="#000" stroke-width="0.3"><text x="82.6" y="443.5">-2.0</text><text x="153.6" y="443.5">0.0</text><text x="223.6" y="443.5">2.0</text></g>
</svg>
</body></html>
